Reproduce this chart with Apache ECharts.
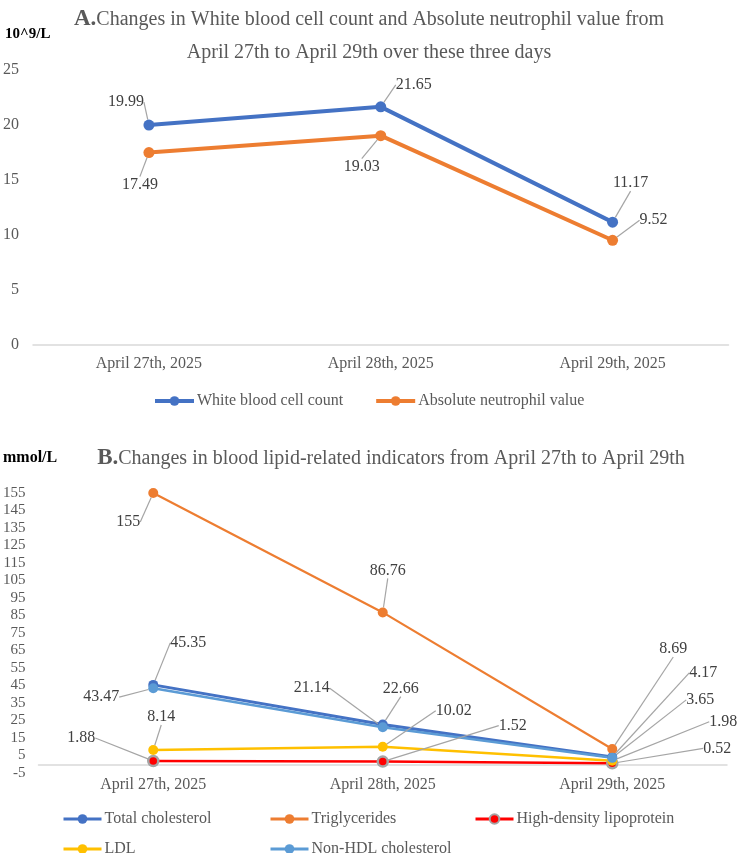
<!DOCTYPE html>
<html>
<head>
<meta charset="utf-8">
<script src="https://cdn.jsdelivr.net/npm/echarts@6/dist/echarts.min.js"></script>
<style>
  html, body { margin: 0; padding: 0; background: #fff; }
  #main { width: 739px; height: 853px; }
</style>
</head>
<body>
<div id="main"></div>
<script>
// 数据
var days = ['April 27th, 2025', 'April 28th, 2025', 'April 29th, 2025'];

var wbc = [19.99, 21.65, 11.17];   // White blood cell count
var anc = [17.49, 19.03, 9.52];    // Absolute neutrophil value

var totalChol = [45.35, 22.66, 4.17];
var triglycerides = [155, 86.76, 8.69];
var hdl = [1.88, 1.52, 0.52];
var ldl = [8.14, 10.02, 1.98];
var nonHdl = [43.47, 21.14, 3.65];

// 标签偏移 (dx, dy)，对应引导线
var labelOffsets = [
    [[-23, -23], [33, -22], [18, -39]],      // wbc
    [[-9, 32], [-19, 31], [41, -20]],        // anc
    [[35, -42], [18, -36], [91, -84]],       // total cholesterol
    [[-25, 29], [5, -42], [61, -100]],       // triglycerides
    [[-72, -23], [130, -36], [105, -15]],    // hdl
    [[8, -33], [71, -36], [111, -39]],       // ldl
    [[-52, 9], [-71, -39], [88, -58]]        // non-hdl
];

var serif = '"Liberation Serif", "Times New Roman", serif';
var grayText = '#595959';

function lineSeries(name, data, color, idx, xi, width, extra) {
    var s = {
        name: name,
        type: 'line',
        xAxisIndex: xi,
        yAxisIndex: xi,
        data: data,
        symbol: 'circle',
        symbolSize: xi == 0 ? 11 : 10,
        lineStyle: { color: color, width: width },
        itemStyle: { color: color },
        label: {
            show: true,
            position: 'inside',
            fontFamily: serif,
            fontSize: 16,
            color: '#404040'
        },
        labelLine: {
            show: true,
            lineStyle: { color: '#A5A5A5', width: 1.2 }
        },
        labelLayout: function (params) {
            var o = labelOffsets[idx][params.dataIndex];
            return { dx: o[0], dy: o[1] };
        },
        emphasis: { disabled: true },
        animation: false
    };
    if (extra) Object.assign(s, extra);
    return s;
}

// 图例 (每项单独定位)
function legendItem(name, left, top) {
    return {
        left: left, top: top, padding: 0,
        itemWidth: 38, itemHeight: 12,
        lineStyle: { width: 3 },
        textStyle: { fontFamily: serif, fontSize: 16, color: grayText, padding: [0, 0, 0, -2] },
        data: [name]
    };
}

var titleRich = {
    a: { fontFamily: serif, fontSize: 23, fontWeight: 'bold', color: grayText, lineHeight: 33 },
    b: { fontFamily: serif, fontSize: 20, fontWeight: 'normal', color: grayText, lineHeight: 33 }
};

var chart = echarts.init(document.getElementById('main'));
chart.setOption({
    backgroundColor: '#fff',
    animation: false,
    textStyle: { fontFamily: serif },
    title: [
        {
            left: 369, top: 3, textAlign: 'center', padding: 0,
            text: '{a|A.}{b|Changes in White blood cell count and Absolute neutrophil value from}\n{b|April 27th to April 29th over these three days}',
            textStyle: { rich: titleRich }
        },
        {
            left: 391, top: 442, textAlign: 'center', padding: 0,
            text: '{a|B.}{b|Changes in blood lipid-related indicators from April 27th to April 29th}',
            textStyle: { rich: titleRich }
        },
        {
            left: 5, top: 27, padding: 0, text: '10^9/L',
            textStyle: { fontFamily: serif, fontSize: 15, fontWeight: 'bold', color: '#000' }
        },
        {
            left: 3, top: 450, padding: 0, text: 'mmol/L',
            textStyle: { fontFamily: serif, fontSize: 16, fontWeight: 'bold', color: '#000' }
        }
    ],
    legend: [
        {
            left: 153, top: 393, padding: 0,
            itemWidth: 39, itemHeight: 12, itemGap: 31,
            lineStyle: { width: 4 },
            textStyle: { fontFamily: serif, fontSize: 16, color: grayText, padding: [0, 0, 0, -2] },
            data: ['White blood cell count', 'Absolute neutrophil value']
        },
        legendItem('Total cholesterol', 62, 811),
        legendItem('Triglycerides', 269, 811),
        legendItem('High-density lipoprotein', 474, 811),
        legendItem('LDL', 62, 841),
        legendItem('Non-HDL cholesterol', 269, 841)
    ],
    grid: [
        { left: 30, right: 10.5, top: 70, height: 275 },
        { left: 37, right: 12, top: 493, height: 280 }
    ],
    xAxis: [0, 1].map(function (i) {
        return {
            type: 'category',
            gridIndex: i,
            data: days,
            axisLine: { lineStyle: { color: '#D9D9D9', width: 1.5 } },
            axisTick: { show: false },
            axisLabel: { fontFamily: serif, fontSize: 16, color: grayText, margin: i == 0 ? 11 : 4 }
        };
    }),
    yAxis: [
        {
            type: 'value', gridIndex: 0, min: 0, max: 25, interval: 5,
            splitLine: { show: false },
            axisLine: { show: false }, axisTick: { show: false },
            axisLabel: { fontFamily: serif, fontSize: 16, color: grayText, margin: 14 }
        },
        {
            type: 'value', gridIndex: 1, min: -5, max: 155, interval: 5,
            splitLine: { show: false },
            axisLine: { show: false }, axisTick: { show: false },
            axisLabel: {
                fontFamily: serif, fontSize: 15, color: grayText, margin: 13,
                formatter: function (v) { return ((v + 5) % 10 === 0) ? String(v) : ''; }
            }
        }
    ],
    series: [
        lineSeries('White blood cell count', wbc, '#4472C4', 0, 0, 4),
        lineSeries('Absolute neutrophil value', anc, '#ED7D31', 1, 0, 4),
        lineSeries('Total cholesterol', totalChol, '#4472C4', 2, 1, 3),
        lineSeries('Triglycerides', triglycerides, '#ED7D31', 3, 1, 2.2),
        lineSeries('High-density lipoprotein', hdl, '#FF0000', 4, 1, 2.5, {
            itemStyle: { color: '#FF0000', borderColor: '#A5A5A5', borderWidth: 2.5 }
        }),
        lineSeries('LDL', ldl, '#FFC000', 5, 1, 2.5),
        lineSeries('Non-HDL cholesterol', nonHdl, '#5B9BD5', 6, 1, 2.5)
    ]
});
</script>
</body>
</html>
